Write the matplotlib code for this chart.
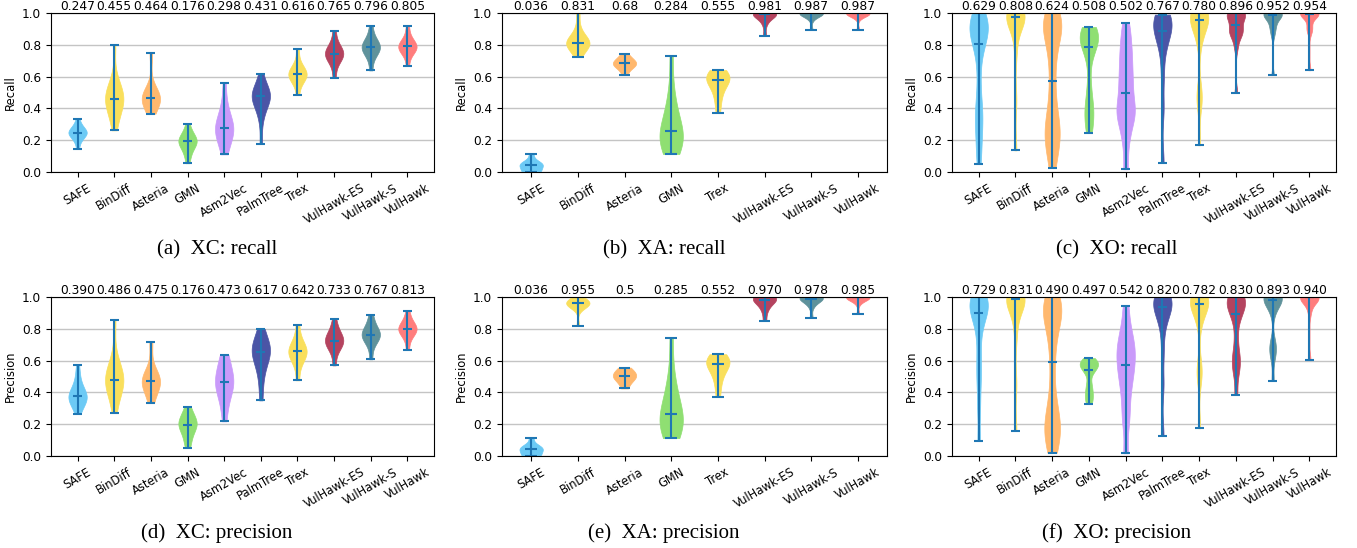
import numpy as np
import matplotlib
matplotlib.use("Agg")
import matplotlib.pyplot as plt

# ---------------- data ----------------
tools10 = ["SAFE", "BinDiff", "Asteria", "GMN", "Asm2Vec", "PalmTree", "Trex",
           "VulHawk-ES", "VulHawk-S", "VulHawk"]
tools8 = ["SAFE", "BinDiff", "Asteria", "GMN", "Trex",
          "VulHawk-ES", "VulHawk-S", "VulHawk"]

color_map = {
    "SAFE": "#6ccaf5", "BinDiff": "#f9df5c", "Asteria": "#ffb86e",
    "GMN": "#8fdf72", "Asm2Vec": "#c99afa", "PalmTree": "#4b55a6",
    "Trex": "#f9df5c", "VulHawk-ES": "#b4435f", "VulHawk-S": "#5f929b",
    "VulHawk": "#ff7d7d",
}

# (a) XC recall
xc_recall = [
    [0.147, 0.19, 0.21, 0.225, 0.235, 0.24, 0.245, 0.25, 0.255, 0.26, 0.27, 0.285, 0.30, 0.335],
    [0.262, 0.33, 0.38, 0.41, 0.43, 0.45, 0.46, 0.47, 0.49, 0.51, 0.54, 0.58, 0.80],
    [0.367, 0.43, 0.45, 0.46, 0.465, 0.47, 0.48, 0.50, 0.748],
    [0.055, 0.10, 0.13, 0.15, 0.17, 0.18, 0.19, 0.195, 0.20, 0.21, 0.22, 0.24, 0.26, 0.30],
    [0.111, 0.16, 0.20, 0.23, 0.25, 0.265, 0.277, 0.29, 0.31, 0.34, 0.38, 0.44, 0.56],
    [0.176, 0.33, 0.39, 0.43, 0.45, 0.47, 0.476, 0.48, 0.49, 0.50, 0.52, 0.55, 0.618],
    [0.484, 0.56, 0.59, 0.60, 0.61, 0.614, 0.62, 0.63, 0.65, 0.68, 0.776],
    [0.593, 0.68, 0.71, 0.73, 0.74, 0.744, 0.75, 0.76, 0.78, 0.81, 0.887],
    [0.639, 0.72, 0.75, 0.77, 0.78, 0.786, 0.79, 0.80, 0.82, 0.85, 0.916],
    [0.669, 0.74, 0.76, 0.775, 0.785, 0.79, 0.795, 0.80, 0.82, 0.85, 0.918],
]
xc_recall_mean = ["0.247", "0.455", "0.464", "0.176", "0.298", "0.431", "0.616", "0.765", "0.796", "0.805"]

# (b) XA recall
xa_recall = [
    [0.0, 0.0, 0.0, 0.01, 0.035, 0.042, 0.045, 0.05, 0.055, 0.07, 0.113],
    [0.724, 0.77, 0.79, 0.80, 0.81, 0.812, 0.82, 0.83, 0.85, 0.90, 1.0],
    [0.61, 0.65, 0.665, 0.675, 0.683, 0.69, 0.70, 0.715, 0.741],
    [0.113, 0.15, 0.17, 0.19, 0.20, 0.22, 0.255, 0.28, 0.31, 0.36, 0.42, 0.52, 0.731],
    [0.374, 0.45, 0.50, 0.54, 0.57, 0.578, 0.59, 0.60, 0.61, 0.62, 0.641],
    [0.858, 0.93, 0.96, 0.98, 0.99, 0.995, 1.0, 1.0, 1.0, 1.0, 1.0],
    [0.894, 0.96, 0.98, 0.99, 1.0, 1.0, 1.0, 1.0, 1.0, 1.0, 1.0],
    [0.894, 0.97, 0.985, 0.995, 1.0, 1.0, 1.0, 1.0, 1.0, 1.0, 1.0],
]
xa_recall_mean = ["0.036", "0.831", "0.68", "0.284", "0.555", "0.981", "0.987", "0.987"]

# (c) XO recall
xo_recall = [
    [0.05, 0.15, 0.25, 0.32, 0.38, 0.45, 0.6, 0.75, 0.807, 0.85, 0.88, 0.9, 0.92, 0.93, 0.95, 0.97, 1.0],
    [0.136, 0.45, 0.75, 0.88, 0.93, 0.96, 0.975, 0.985, 0.99, 0.995, 1.0, 1.0, 1.0],
    [0.025, 0.12, 0.18, 0.22, 0.26, 0.3, 0.36, 0.45, 0.574, 0.7, 0.8, 0.86, 0.9, 0.93, 0.95, 0.98, 1.0],
    [0.245, 0.3, 0.36, 0.40, 0.45, 0.55, 0.7, 0.784, 0.8, 0.82, 0.84, 0.86, 0.88, 0.9, 0.912],
    [0.017, 0.18, 0.28, 0.33, 0.37, 0.40, 0.43, 0.497, 0.55, 0.6, 0.66, 0.72, 0.78, 0.85, 0.935],
    [0.059, 0.4, 0.6, 0.75, 0.82, 0.86, 0.889, 0.91, 0.93, 0.95, 0.97, 0.98, 0.99],
    [0.168, 0.42, 0.47, 0.52, 0.8, 0.88, 0.92, 0.954, 0.96, 0.97, 0.98, 0.99, 1.0, 1.0, 1.0],
    [0.499, 0.78, 0.84, 0.87, 0.88, 0.89, 0.9, 0.927, 0.96, 0.98, 0.99, 1.0, 1.0, 1.0, 1.0],
    [0.612, 0.86, 0.9, 0.92, 0.95, 0.98, 0.985, 0.99, 1.0, 1.0, 1.0, 1.0, 1.0],
    [0.64, 0.88, 0.9, 0.92, 0.97, 0.99, 0.996, 1.0, 1.0, 1.0, 1.0, 1.0, 1.0],
]
xo_recall_mean = ["0.629", "0.808", "0.624", "0.508", "0.502", "0.767", "0.780", "0.896", "0.952", "0.954"]

# (d) XC precision
xc_precision = [
    [0.266, 0.31, 0.33, 0.35, 0.36, 0.37, 0.377, 0.385, 0.40, 0.42, 0.45, 0.50, 0.57],
    [0.272, 0.38, 0.42, 0.45, 0.47, 0.48, 0.49, 0.51, 0.55, 0.60, 0.855],
    [0.333, 0.41, 0.44, 0.46, 0.472, 0.48, 0.50, 0.53, 0.715],
    [0.052, 0.10, 0.14, 0.17, 0.19, 0.197, 0.21, 0.22, 0.24, 0.27, 0.306],
    [0.218, 0.32, 0.38, 0.42, 0.45, 0.463, 0.48, 0.51, 0.55, 0.60, 0.637],
    [0.35, 0.48, 0.56, 0.61, 0.64, 0.656, 0.67, 0.68, 0.70, 0.73, 0.80],
    [0.476, 0.60, 0.63, 0.65, 0.658, 0.665, 0.68, 0.71, 0.822],
    [0.57, 0.66, 0.69, 0.71, 0.72, 0.725, 0.73, 0.75, 0.77, 0.80, 0.86],
    [0.608, 0.70, 0.73, 0.75, 0.76, 0.763, 0.77, 0.78, 0.80, 0.84, 0.887],
    [0.669, 0.74, 0.77, 0.785, 0.795, 0.799, 0.805, 0.815, 0.83, 0.86, 0.91],
]
xc_precision_mean = ["0.390", "0.486", "0.475", "0.176", "0.473", "0.617", "0.642", "0.733", "0.767", "0.813"]

# (e) XA precision
xa_precision = [
    [0.0, 0.0, 0.0, 0.01, 0.035, 0.042, 0.045, 0.05, 0.055, 0.07, 0.115],
    [0.817, 0.93, 0.95, 0.955, 0.958, 0.96, 0.962, 0.965, 0.97, 0.98, 1.0],
    [0.425, 0.46, 0.48, 0.495, 0.502, 0.51, 0.525, 0.54, 0.556],
    [0.1125, 0.15, 0.17, 0.19, 0.20, 0.22, 0.265, 0.29, 0.32, 0.37, 0.43, 0.53, 0.744],
    [0.371, 0.45, 0.50, 0.54, 0.565, 0.577, 0.59, 0.60, 0.61, 0.62, 0.64],
    [0.85, 0.91, 0.94, 0.96, 0.975, 0.983, 0.99, 1.0, 1.0, 1.0, 1.0],
    [0.869, 0.94, 0.965, 0.98, 0.99, 0.99, 1.0, 1.0, 1.0, 1.0, 1.0],
    [0.894, 0.96, 0.98, 0.99, 1.0, 1.0, 1.0, 1.0, 1.0, 1.0, 1.0],
]
xa_precision_mean = ["0.036", "0.955", "0.5", "0.285", "0.552", "0.970", "0.978", "0.985"]

# (f) XO precision
xo_precision = [
    [0.094, 0.3, 0.45, 0.55, 0.65, 0.78, 0.85, 0.9, 0.92, 0.94, 0.95, 0.97, 0.99, 1.0, 1.0],
    [0.159, 0.45, 0.75, 0.87, 0.93, 0.96, 0.987, 0.99, 1.0, 1.0, 1.0, 1.0, 1.0],
    [0.021, 0.08, 0.13, 0.17, 0.2, 0.24, 0.3, 0.42, 0.591, 0.72, 0.82, 0.87, 0.9, 0.93, 0.95, 0.98, 1.0],
    [0.329, 0.36, 0.39, 0.42, 0.46, 0.52, 0.543, 0.56, 0.57, 0.58, 0.59, 0.6, 0.616],
    [0.017, 0.2, 0.3, 0.4, 0.47, 0.53, 0.57, 0.62, 0.66, 0.7, 0.75, 0.82, 0.943],
    [0.126, 0.45, 0.65, 0.8, 0.87, 0.91, 0.937, 0.95, 0.97, 0.98, 0.99, 1.0, 1.0],
    [0.174, 0.48, 0.53, 0.58, 0.82, 0.9, 0.93, 0.954, 0.96, 0.97, 0.98, 0.99, 1.0, 1.0, 1.0],
    [0.386, 0.52, 0.57, 0.61, 0.65, 0.75, 0.86, 0.895, 0.92, 0.95, 0.97, 0.98, 1.0, 1.0, 1.0],
    [0.474, 0.62, 0.66, 0.69, 0.72, 0.9, 0.95, 0.983, 0.99, 1.0, 1.0, 1.0, 1.0, 1.0, 1.0],
    [0.606, 0.9, 0.95, 0.98, 0.99, 1.0, 1.0, 1.0, 1.0, 1.0, 1.0],
]
xo_precision_mean = ["0.729", "0.831", "0.490", "0.497", "0.542", "0.820", "0.782", "0.830", "0.893", "0.940"]

panels = [
    (xc_recall, xc_recall_mean, tools10, "Recall", "(a)  XC: recall", "scott"),
    (xa_recall, xa_recall_mean, tools8, "Recall", "(b)  XA: recall", "scott"),
    (xo_recall, xo_recall_mean, tools10, "Recall", "(c)  XO: recall", 0.3),
    (xc_precision, xc_precision_mean, tools10, "Precision", "(d)  XC: precision", "scott"),
    (xa_precision, xa_precision_mean, tools8, "Precision", "(e)  XA: precision", "scott"),
    (xo_precision, xo_precision_mean, tools10, "Precision", "(f)  XO: precision", 0.3),
]

# ---------------- layout ----------------
W, H = 1357, 548
fig = plt.figure(figsize=(W / 100, H / 100), dpi=100)
lefts = [51, 502, 952]
rights = [434, 887, 1336]
cap_x = [217, 664, 1117]
tops = [13, 297]
ax_h = 159
cap_base = [254, 538]

fs = 8.3
for i, (data, means, names, ylab, cap, bw) in enumerate(panels):
    r, c = divmod(i, 3)
    l, rr = lefts[c], rights[c]
    t = tops[r]
    ax = fig.add_axes([l / W, 1 - (t + ax_h) / H, (rr - l) / W, ax_h / H])
    pos = np.arange(1, len(names) + 1)
    parts = ax.violinplot(data, positions=pos, showmedians=True, showextrema=True,
                          bw_method=bw)
    for body, name in zip(parts["bodies"], names):
        body.set_facecolor(color_map[name])
        body.set_edgecolor(color_map[name])
        body.set_alpha(1.0)
        body.set_linewidth(0.5)
    for key in ("cmins", "cmaxes", "cbars", "cmedians"):
        parts[key].set_color("#1f77b4")
        parts[key].set_linewidth(1.5)
    ax.set_ylim(0, 1.0)
    ax.set_yticks([0.0, 0.2, 0.4, 0.6, 0.8, 1.0])
    ax.yaxis.grid(True, color="#c4c4c4", linewidth=1.0)
    ax.set_axisbelow(True)
    ax.set_xticks(pos)
    ax.set_xticklabels(names, rotation=30, fontsize=fs)
    ax.tick_params(axis="y", labelsize=fs + 0.4)
    ax.set_ylabel(ylab, fontsize=fs)
    for p, m in zip(pos, means):
        ax.text(p, 1.0, m, ha="center", va="bottom", fontsize=8.8)
    fig.text(cap_x[c] / W, 1 - cap_base[r] / H, cap, ha="center", va="baseline",
             fontsize=15, family="Liberation Serif")

fig.savefig("out.png", dpi=100)
